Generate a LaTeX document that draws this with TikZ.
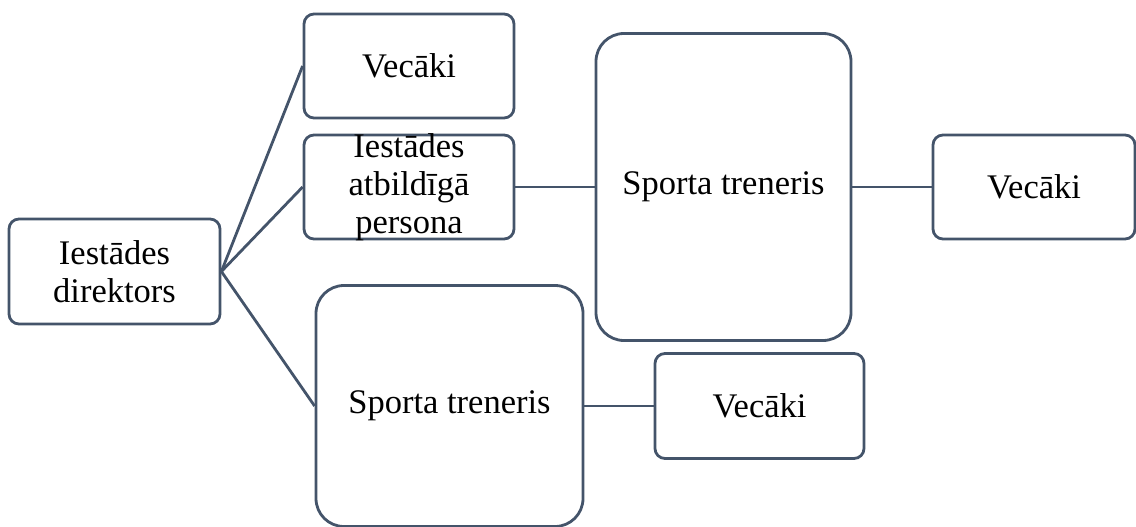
\documentclass[tikz,border=0pt]{standalone}
\usepackage{fontspec}
\setmainfont{Liberation Serif}
\definecolor{edge}{HTML}{44546A}
\begin{document}
\begin{tikzpicture}[x=1pt,y=-1pt,
  box/.style={draw=edge,line width=2.8pt,rounded corners=10pt,inner sep=0pt,
    align=center,font=\fontsize{34.5}{38}\selectfont,text=black},
  bigbox/.style={box,rounded corners=28pt},
  link/.style={draw=edge,line width=2.8pt}]
\useasboundingbox (0,0) rectangle (1136,527);
\node[box,minimum width=211pt,minimum height=105pt] (dir) at (114.5,271.5) {Iestādes\\direktors};
\node[box,minimum width=210pt,minimum height=104pt] (v1) at (409,66) {Vecāki};
\node[box,minimum width=210pt,minimum height=104pt,
  label={[font=\fontsize{34.5}{38}\selectfont,align=center,text=black]center:Iestādes\\atbildīgā\\persona}] (atb) at (409,187) {};
\node[bigbox,minimum width=255pt,minimum height=307pt] (st1) at (723.5,187) {Sporta treneris};
\node[box,minimum width=202pt,minimum height=104pt] (v2) at (1034,187) {Vecāki};
\node[bigbox,minimum width=267pt,minimum height=241pt] (st2) at (449.5,406) {Sporta treneris};
\node[box,minimum width=209pt,minimum height=105pt] (v3) at (759.5,406) {Vecāki};
\draw[link] (dir.east) -- (v1.west);
\draw[link] (dir.east) -- (atb.west);
\draw[link] (dir.east) -- (st2.west);
\draw[link] (atb.east) -- (st1.west);
\draw[link] (st1.east) -- (v2.west);
\draw[link] (st2.east) -- (v3.west);
\end{tikzpicture}
\end{document}
